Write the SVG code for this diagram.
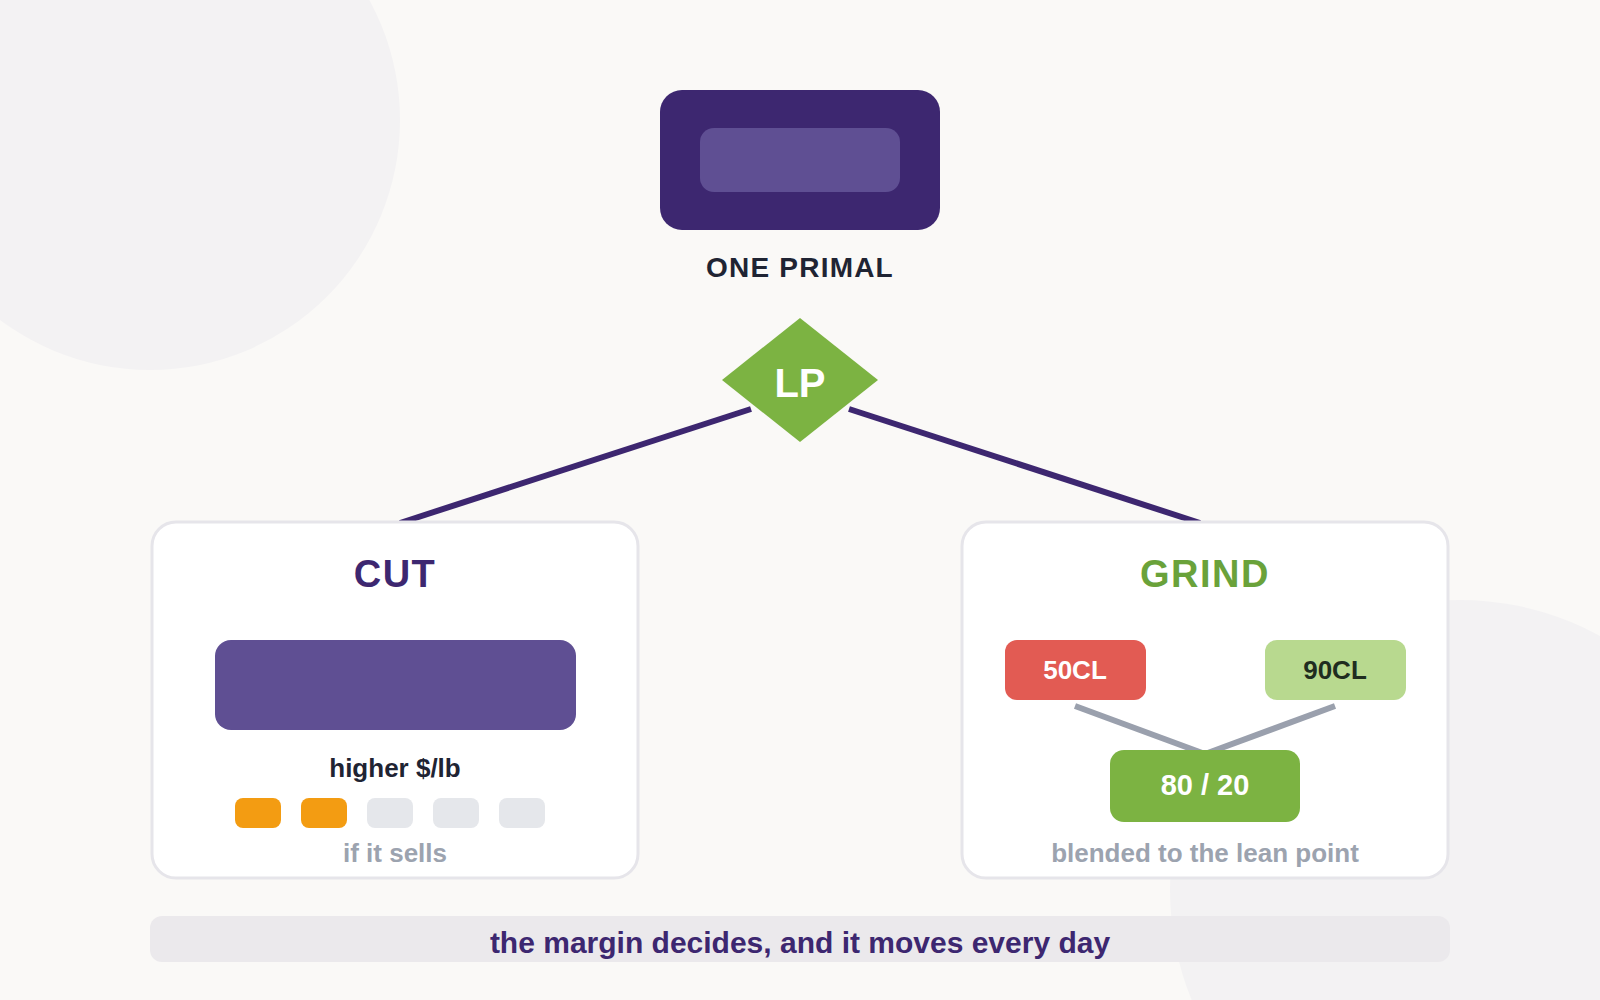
<svg xmlns="http://www.w3.org/2000/svg" width="1600" height="1000" viewBox="0 0 1600 1000">
  <style>
    text { font-family: "Liberation Sans", Arial, sans-serif; font-weight: bold; text-anchor: middle; }
    .card { fill: #ffffff; stroke: #e6e5ea; stroke-width: 3; }
    .title { font-size: 38px; letter-spacing: 1.5px; }
    .note { font-size: 26px; fill: #9ca3af; }
    .conn { stroke: #3d2770; stroke-width: 6; fill: none; }
    .blend { stroke: #9aa0ad; stroke-width: 6; fill: none; }
    .pip-on { fill: #f39c12; }
    .pip-off { fill: #e5e7eb; }
  </style>
  <rect x="0" y="0" width="1600" height="1000" fill="#faf9f7"/>
  <circle cx="150" cy="120" r="250" fill="#f3f2f3"/>
  <circle cx="1460" cy="890" r="290" fill="#f3f2f3"/>

  <g id="connectors">
    <line class="conn" x1="751" y1="409" x2="400" y2="523"/>
    <line class="conn" x1="849" y1="409" x2="1200" y2="523"/>
  </g>

  <g id="primal">
    <rect x="660" y="90" width="280" height="140" rx="22" fill="#3d2770"/>
    <rect x="700" y="128" width="200" height="64" rx="14" fill="#5f4f93"/>
    <text x="800" y="277" font-size="28" letter-spacing="1.2" fill="#1f2433">ONE PRIMAL</text>
  </g>

  <g id="lp">
    <polygon points="800,318 878,380 800,442 722,380" fill="#7cb342"/>
    <text x="800" y="397" font-size="40" fill="#ffffff">LP</text>
  </g>

  <g id="cut">
    <rect class="card" x="152" y="522" width="486" height="356" rx="24"/>
    <text class="title" x="395" y="587" fill="#3d2770">CUT</text>
    <rect x="215" y="640" width="361" height="90" rx="16" fill="#5f4f93"/>
    <text x="395" y="777" font-size="26" fill="#1f2433">higher $/lb</text>
    <rect class="pip-on" x="235" y="798" width="46" height="30" rx="8"/>
    <rect class="pip-on" x="301" y="798" width="46" height="30" rx="8"/>
    <rect class="pip-off" x="367" y="798" width="46" height="30" rx="8"/>
    <rect class="pip-off" x="433" y="798" width="46" height="30" rx="8"/>
    <rect class="pip-off" x="499" y="798" width="46" height="30" rx="8"/>
    <text class="note" x="395" y="862">if it sells</text>
  </g>

  <g id="grind">
    <rect class="card" x="962" y="522" width="486" height="356" rx="24"/>
    <text class="title" x="1205" y="587" fill="#6aa23a">GRIND</text>
    <line class="blend" x1="1075" y1="706" x2="1205" y2="754"/>
    <line class="blend" x1="1335" y1="706" x2="1205" y2="754"/>
    <g id="cl50">
      <rect x="1005" y="640" width="141" height="60" rx="12" fill="#e25b53"/>
      <text x="1075" y="679" font-size="26" fill="#ffffff">50CL</text>
    </g>
    <g id="cl90">
      <rect x="1265" y="640" width="141" height="60" rx="12" fill="#b8d98f"/>
      <text x="1335" y="679" font-size="26" fill="#1f2d20">90CL</text>
    </g>
    <g id="blend8020">
      <rect x="1110" y="750" width="190" height="72" rx="14" fill="#7cb342"/>
      <text x="1205" y="795" font-size="29" fill="#ffffff">80 / 20</text>
    </g>
    <text class="note" x="1205" y="862">blended to the lean point</text>
  </g>

  <g id="banner">
    <rect x="150" y="916" width="1300" height="46" rx="12" fill="#ebe9ec"/>
    <text x="800" y="953" font-size="30" fill="#3d2770">the margin decides, and it moves every day</text>
  </g>
</svg>
